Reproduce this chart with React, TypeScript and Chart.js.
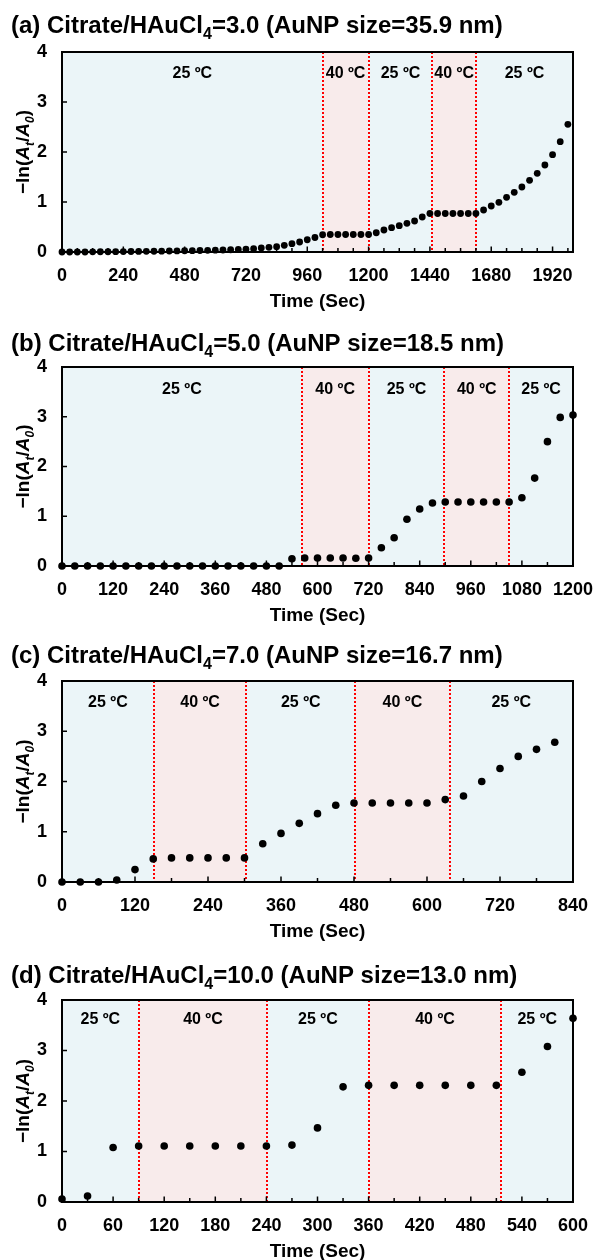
import { useEffect, useRef } from 'react';
import { Chart, registerables } from 'chart.js';

Chart.register(...registerables);

const FONT = '"Liberation Sans", Arial, Helvetica, sans-serif';
const BLUE = '#EBF5F8';
const PINK = '#F8EBEB';
const RED = '#FF0000';
const PLOT_LEFT = 62;
const PLOT_RIGHT = 573;
const WIDTH = 593;

// ---------- Panel (a) ----------
const titleA = ['(a) Citrate/HAuCl', '4', '=3.0 (AuNP size=35.9 nm)'];
const timeA = [0, 30, 60, 90, 120, 150, 180, 210, 240, 270, 300, 330, 360, 390, 420, 450, 480, 510, 540, 570, 600, 630, 660, 690, 720, 750, 780, 810, 840, 870, 900, 930, 960, 990, 1020, 1050, 1080, 1110, 1140, 1170, 1200, 1230, 1260, 1290, 1320, 1350, 1380, 1410, 1440, 1470, 1500, 1530, 1560, 1590, 1620, 1650, 1680, 1710, 1740, 1770, 1800, 1830, 1860, 1890, 1920, 1950, 1980];
const valueA = [0, 0, 0, 0, 0.003, 0.005, 0.005, 0.007, 0.008, 0.01,
  0.012, 0.013, 0.015, 0.017, 0.02, 0.022, 0.025, 0.027, 0.03, 0.033,
  0.037, 0.04, 0.045, 0.05, 0.057, 0.067, 0.08, 0.093, 0.107, 0.133,
  0.167, 0.2, 0.245, 0.29, 0.345, 0.35, 0.35, 0.35, 0.35, 0.35,
  0.35, 0.385, 0.44, 0.487, 0.527, 0.573, 0.62, 0.7, 0.77, 0.77,
  0.77, 0.77, 0.77, 0.77, 0.77, 0.84, 0.92, 0.993, 1.093, 1.193,
  1.3, 1.433, 1.573, 1.74, 1.947, 2.207, 2.553];
const xTicksA = [0, 240, 480, 720, 960, 1200, 1440, 1680, 1920];
const edgesA = [0, 1020, 1200, 1450, 1620, 2000];
const tempsA = ['25 ºC', '40 ºC', '25 ºC', '40 ºC', '25 ºC'];

// ---------- Panel (b) ----------
const titleB = ['(b) Citrate/HAuCl', '4', '=5.0 (AuNP size=18.5 nm)'];
const timeB = [0, 30, 60, 90, 120, 150, 180, 210, 240, 270, 300, 330, 360, 390, 420, 450, 480, 510, 540, 570, 600, 630, 660, 690, 720, 750, 780, 810, 840, 870, 900, 930, 960, 990, 1020, 1050, 1080, 1110, 1140, 1170, 1200];
const valueB = [0, 0, 0, 0, 0, 0, 0, 0, 0, 0, 0, 0, 0, 0, 0, 0, 0, 0,
  0.147, 0.16, 0.16, 0.16, 0.16, 0.155, 0.16,
  0.367, 0.567, 0.94, 1.147, 1.267,
  1.287, 1.287, 1.287, 1.287, 1.287, 1.287,
  1.373, 1.767, 2.5, 2.987, 3.033];
const xTicksB = [0, 120, 240, 360, 480, 600, 720, 840, 960, 1080, 1200];
const edgesB = [0, 563, 720, 898, 1050, 1200];
const tempsB = ['25 ºC', '40 ºC', '25 ºC', '40 ºC', '25 ºC'];

// ---------- Panel (c) ----------
const titleC = ['(c) Citrate/HAuCl', '4', '=7.0 (AuNP size=16.7 nm)'];
const timeC = [0, 30, 60, 90, 120, 150, 180, 210, 240, 270, 300, 330, 360, 390, 420, 450, 480, 510, 540, 570, 600, 630, 660, 690, 720, 750, 780, 810];
const valueC = [0, 0, 0, 0.04, 0.247, 0.46, 0.48, 0.48, 0.48, 0.48, 0.48,
  0.76, 0.967, 1.167, 1.36, 1.527,
  1.573, 1.573, 1.573, 1.573, 1.573, 1.64,
  1.71, 2.0, 2.26, 2.5, 2.64, 2.78];
const xTicksC = [0, 120, 240, 360, 480, 600, 720, 840];
const edgesC = [0, 151, 303, 482, 637, 840];
const tempsC = ['25 ºC', '40 ºC', '25 ºC', '40 ºC', '25 ºC'];

// ---------- Panel (d) ----------
const titleD = ['(d) Citrate/HAuCl', '4', '=10.0 (AuNP size=13.0 nm)'];
const timeD = [0, 30, 60, 90, 120, 150, 180, 210, 240, 270, 300, 330, 360, 390, 420, 450, 480, 510, 540, 570, 600];
const valueD = [0.06, 0.12, 1.08, 1.11, 1.11, 1.11, 1.11, 1.11, 1.11, 1.127, 1.467,
  2.28, 2.31, 2.31, 2.31, 2.31, 2.31, 2.31, 2.57, 3.08, 3.64];
const xTicksD = [0, 60, 120, 180, 240, 300, 360, 420, 480, 540, 600];
const edgesD = [0, 90, 241, 360, 516, 600];
const tempsD = ['25 ºC', '40 ºC', '25 ºC', '40 ºC', '25 ºC'];

const yTicks = [0, 1, 2, 3, 4];
const xTitle = 'Time (Sec)';

type Part = { t: string; sub?: boolean; it?: boolean };

const yTitleParts: Part[] = [
  { t: '\u2212ln(' },
  { t: 'A', it: true },
  { t: 't', it: true, sub: true },
  { t: '/' },
  { t: 'A', it: true },
  { t: '0', it: true, sub: true },
  { t: ')' },
];

type Panel = {
  title: string[];
  times: number[];
  values: number[];
  xTicks: number[];
  xMax: number;
  minorStep: number;
  edges: number[];
  temps: string[];
  top: number;
  height: number;
  plotTop: number;
  plotBottom: number;
  titleBase: number;
  labelOffset: number;
  radius: number;
};

const panels: Panel[] = [
  { title: titleA, times: timeA, values: valueA, xTicks: xTicksA, xMax: 2000, minorStep: 60, edges: edgesA, temps: tempsA,
    top: 0, height: 316, plotTop: 52, plotBottom: 252, titleBase: 33, labelOffset: 20, radius: 3.4 },
  { title: titleB, times: timeB, values: valueB, xTicks: xTicksB, xMax: 1200, minorStep: 60, edges: edgesB, temps: tempsB,
    top: 316, height: 316, plotTop: 367, plotBottom: 566, titleBase: 351, labelOffset: 21, radius: 3.8 },
  { title: titleC, times: timeC, values: valueC, xTicks: xTicksC, xMax: 840, minorStep: 60, edges: edgesC, temps: tempsC,
    top: 632, height: 318, plotTop: 681, plotBottom: 882, titleBase: 663, labelOffset: 20, radius: 3.8 },
  { title: titleD, times: timeD, values: valueD, xTicks: xTicksD, xMax: 600, minorStep: 30, edges: edgesD, temps: tempsD,
    top: 950, height: 310, plotTop: 1000, plotBottom: 1202, titleBase: 983, labelOffset: 18, radius: 3.8 },
];

function partFont(p: Part, size: number) {
  const s = p.sub ? Math.round(size * 0.65) : size;
  return `${p.it ? 'italic ' : ''}bold ${s}px ${FONT}`;
}

function drawRich(ctx: CanvasRenderingContext2D, parts: Part[], x: number, y: number, size: number, align: 'left' | 'center') {
  ctx.save();
  ctx.textBaseline = 'alphabetic';
  ctx.textAlign = 'left';
  let total = 0;
  const widths = parts.map((p) => {
    ctx.font = partFont(p, size);
    const w = ctx.measureText(p.t).width;
    total += w;
    return w;
  });
  let cx = align === 'center' ? x - total / 2 : x;
  parts.forEach((p, i) => {
    ctx.font = partFont(p, size);
    ctx.fillText(p.t, cx, y + (p.sub ? size * 0.26 : 0));
    cx += widths[i];
  });
  ctx.restore();
}

function makePlugin(p: Panel) {
  return {
    id: 'panelDecor',
    beforeDatasetsDraw(chart: any) {
      const ctx: CanvasRenderingContext2D = chart.ctx;
      const xs = chart.scales.x;
      const ys = chart.scales.y;
      const a = chart.chartArea;
      ctx.save();
      // regions
      for (let i = 0; i < p.temps.length; i++) {
        const x0 = xs.getPixelForValue(p.edges[i]);
        const x1 = xs.getPixelForValue(p.edges[i + 1]);
        ctx.fillStyle = p.temps[i].startsWith('40') ? PINK : BLUE;
        ctx.fillRect(x0, a.top, x1 - x0, a.bottom - a.top);
      }
      // red dotted boundaries
      ctx.strokeStyle = RED;
      ctx.lineWidth = 2;
      ctx.setLineDash([2, 2]);
      for (let i = 1; i < p.edges.length - 1; i++) {
        const x = Math.round(xs.getPixelForValue(p.edges[i]));
        ctx.beginPath();
        ctx.moveTo(x, a.top);
        ctx.lineTo(x, a.bottom);
        ctx.stroke();
      }
      ctx.setLineDash([]);
      // temperature labels
      ctx.fillStyle = '#000';
      ctx.font = `bold 16px ${FONT}`;
      ctx.textAlign = 'center';
      ctx.textBaseline = 'alphabetic';
      for (let i = 0; i < p.temps.length; i++) {
        const cx = (xs.getPixelForValue(p.edges[i]) + xs.getPixelForValue(p.edges[i + 1])) / 2;
        ctx.fillText(p.temps[i], cx, a.top + p.labelOffset + 5.7);
      }
      // inward ticks
      ctx.strokeStyle = '#000';
      ctx.lineWidth = 1.5;
      for (let v = 0; v <= p.xMax; v += p.minorStep) {
        const x = xs.getPixelForValue(v);
        const major = p.xTicks.includes(v);
        ctx.beginPath();
        ctx.moveTo(x, a.bottom);
        ctx.lineTo(x, a.bottom - (major ? 5.5 : 4));
        ctx.stroke();
      }
      for (const v of yTicks) {
        const y = ys.getPixelForValue(v);
        ctx.beginPath();
        ctx.moveTo(a.left, y);
        ctx.lineTo(a.left + 5, y);
        ctx.stroke();
      }
      // box
      ctx.lineWidth = 2;
      ctx.strokeRect(a.left, a.top, a.right - a.left, a.bottom - a.top);
      ctx.restore();
    },
    afterDraw(chart: any) {
      const ctx: CanvasRenderingContext2D = chart.ctx;
      const a = chart.chartArea;
      ctx.save();
      ctx.fillStyle = '#000';
      // panel title
      const tparts: Part[] = [{ t: p.title[0] }, { t: p.title[1], sub: true }, { t: p.title[2] }];
      drawRich(ctx, tparts, 11, p.titleBase - p.top, 24, 'left');
      // x title
      ctx.font = `bold 19px ${FONT}`;
      ctx.textAlign = 'center';
      ctx.textBaseline = 'alphabetic';
      ctx.fillText(xTitle, (a.left + a.right) / 2, a.bottom + 48 + 6.8);
      // y title
      ctx.translate(22, (a.top + a.bottom) / 2);
      ctx.rotate(-Math.PI / 2);
      drawRich(ctx, yTitleParts, 0, 6.8, 19, 'center');
      ctx.restore();
    },
  };
}

function PanelChart({ p }: { p: Panel }) {
  const ref = useRef<HTMLCanvasElement | null>(null);
  useEffect(() => {
    const canvas = ref.current;
    if (!canvas) return;
    const data = p.times.map((t, i) => ({ x: t, y: p.values[i] }));
    const tickFont = { family: FONT, size: 18, weight: 'bold' as const };
    const chart = new Chart(canvas, {
      type: 'scatter',
      data: {
        datasets: [{
          data,
          backgroundColor: '#000',
          borderColor: '#000',
          pointRadius: p.radius,
          pointHoverRadius: p.radius,
          borderWidth: 0,
          clip: false as any,
        }],
      },
      options: {
        responsive: false,
        animation: false,
        devicePixelRatio: 1,
        events: [],
        layout: { padding: { left: 0, right: WIDTH - PLOT_RIGHT, top: p.plotTop - p.top, bottom: 0 } },
        plugins: { legend: { display: false }, tooltip: { enabled: false }, title: { display: false } },
        scales: {
          x: {
            type: 'linear',
            min: 0,
            max: p.xMax,
            afterBuildTicks: (s: any) => { s.ticks = p.xTicks.map((v) => ({ value: v })); },
            afterFit: (s: any) => {
              s.height = p.height - (p.plotBottom - p.top);
              s.paddingLeft = 0; s.paddingRight = 0;
            },
            grid: { display: false, drawTicks: false },
            border: { display: false },
            ticks: {
              font: tickFont, color: '#000', padding: 13, maxRotation: 0, minRotation: 0, autoSkip: false,
              callback: (v: any) => String(v),
            },
          },
          y: {
            type: 'linear',
            min: 0,
            max: 4,
            afterBuildTicks: (s: any) => { s.ticks = yTicks.map((v) => ({ value: v })); },
            afterFit: (s: any) => {
              s.width = PLOT_LEFT;
              s.paddingTop = 0; s.paddingBottom = 0;
            },
            grid: { display: false, drawTicks: false },
            border: { display: false },
            ticks: { font: tickFont, color: '#000', padding: 15, callback: (v: any) => String(v) },
          },
        },
      } as any,
      plugins: [makePlugin(p)],
    });
    return () => chart.destroy();
  }, [p]);
  return (
    <canvas
      ref={ref}
      width={WIDTH}
      height={p.height}
      style={{ position: 'absolute', left: 0, top: p.top, width: WIDTH, height: p.height, display: 'block' }}
    />
  );
}

export default function App() {
  return (
    <div style={{ position: 'absolute', left: 0, top: 0, width: WIDTH, height: 1260, background: '#fff', overflow: 'hidden' }}>
      {panels.map((p, i) => (
        <PanelChart key={i} p={p} />
      ))}
    </div>
  );
}
